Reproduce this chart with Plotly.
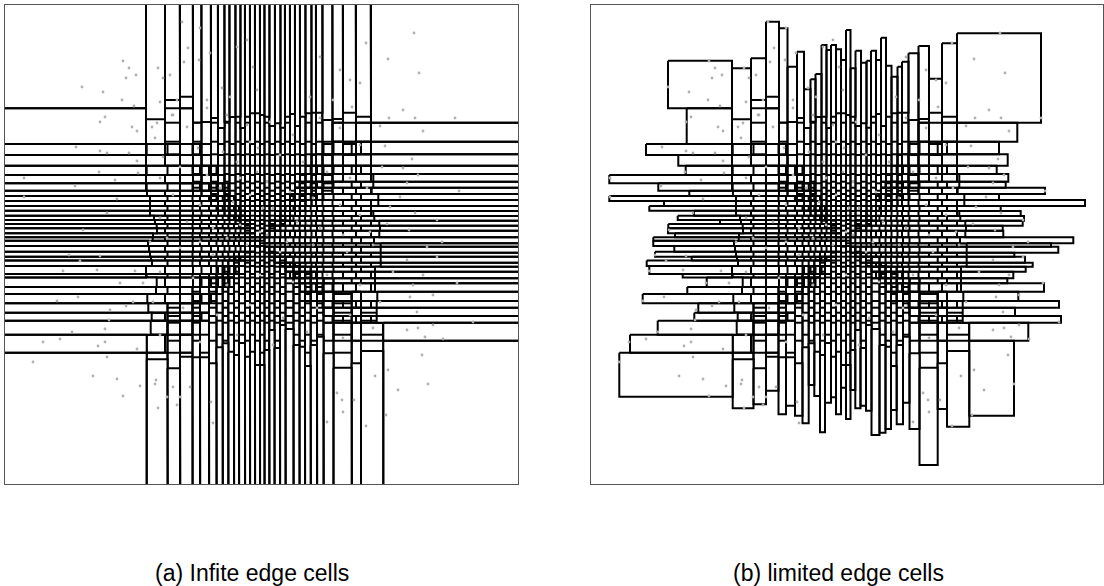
import plotly.graph_objects as go

# ---------------- data (units of panel coordinates, y grows downward) ----------------
# top edge columns: x edges, lower end (shared), upper end in the limited panel
TOP_X = [146, 165, 180, 193, 201.5, 211, 218, 224.5, 229.5, 235.5, 240.5, 245, 250, 255, 260,
         264.5, 269.5, 275, 280.5, 285, 290, 295, 300, 305.5, 311.5, 316, 322.5, 332.5, 343, 356, 371]
TOP_END = [119.3, 100, 96.7, 122.5, 122, 118, 128, 121.7, 117, 116.7, 128, 116.7, 113.3, 113.3, 115,
           116.7, 126, 123.3, 127.7, 116.7, 114, 126, 116.7, 113.3, 112.7, 112.7, 120, 119, 112.7, 116.7]
TOP_LIM = [68.3, 58.3, 21.7, 28.3, 66.7, 51.7, 89.3, 79.3, 74, 45, 50, 45, 49.3, 60, 30,
           68.3, 50.7, 62.7, 60.7, 50.7, 60, 37.7, 65.7, 76.7, 66.7, 61.7, 53.3, 46, 78.7, 43.3]

# bottom edge columns
BOT_X = [146.7, 167.5, 180, 192.5, 200, 209, 216.5, 222.7, 228.3, 234, 239, 245, 250, 255, 260,
         264.5, 269.3, 274.5, 280, 285.5, 293.5, 299.5, 305, 310.7, 317, 323.5, 333.5, 351.7, 361, 383.3]
BOT_END = [359.3, 368.3, 356.7, 357.3, 357.3, 363.3, 347.3, 343.3, 351.7, 355, 343, 356.7, 351.7, 365,
           365, 350, 330, 348, 325, 329, 345, 346.7, 366, 345, 336.7, 353.3, 367.7, 363.3, 351]
BOT_LIM = [408.3, 404.3, 390.7, 414.3, 405.7, 415.7, 423.3, 385, 396, 432.3, 402.7, 397.3, 414.3, 387.7,
           419, 390, 408.3, 405.7, 410.7, 435, 432.7, 429, 410, 424.3, 402.7, 429, 465, 409, 426.7]

# left edge rows
LEFT_Y = [108.3, 144, 155, 165.7, 175, 183.3, 190.7, 196, 201, 206, 210.7, 215.7, 220, 224, 228.3,
          233.3, 237.3, 240.7, 246, 251.7, 256.7, 260.5, 266, 274, 277.5, 287, 294, 303.3, 312.7,
          320.7, 334.7, 352.7]
LEFT_END = [146, 146, 146, 146, 146, 146, 147, 150, 150, 150, 150, 154, 155, 156.7, 157, 153, 152.7,
            148, 149, 150, 151, 152, 146, 146, 156.7, 156, 147.3, 148.3, 151.7, 150.7, 146.7]
LEFT_LIM = [100.7, 60, 92.3, 99.7, 23.3, 72.3, 103.3, 23.3, 78, 63.3, 108, 91.7, 134, 82.3, 82,
            89, 67.3, 67.3, 88.3, 69, 105.7, 60.7, 63.3, 96.7, 120.7, 101.3, 56.7, 112.3, 108.3,
            71.7, 44]

# right edge rows
RIGHT_Y = [122.7, 141.7, 154.3, 165.7, 174, 181.7, 187.7, 194, 200, 206, 211, 216, 220.7, 225.7,
           230.7, 237.3, 243.3, 246.7, 252.7, 256.7, 262.7, 266.7, 271.7, 278.3, 283.3, 291.7, 301,
           307.7, 316, 322.7, 340.7]
RIGHT_START = [371, 371, 371, 371, 373.3, 373.3, 371.7, 378.3, 378.3, 371, 373.3, 374.3, 379.3, 380,
               379.3, 374, 380.7, 380.7, 380.7, 380.7, 380.7, 375, 375, 375, 375, 377.3, 376.7,
               376.7, 376.7, 383.3]
RIGHT_LIM = [431.3, 413, 421.7, 410.7, 422.3, 419.7, 459, 413, 499, 414.7, 434.7, 438, 436.7, 416.7,
             417.3, 487.3, 465, 472.3, 428.3, 439, 446.7, 439.7, 427.3, 421.3, 458, 432.3, 473, 429,
             475, 442.3]

# corner cells: top-left, top-right, bottom-left, bottom-right
CORNER_INNER_X = [146, 371, 146.7, 383.3]
CORNER_INNER_Y = [108.3, 122.7, 352.7, 340.7]
CORNER_OUTER_X = [82, 455, 33.3, 428]
CORNER_OUTER_Y = [60.7, 33.3, 396.7, 415.7]

# centre of the cell pattern
CENTER_X = 260
CENTER_Y = 242

# sample points (x, y)
DOTS = [(123,61),(129,68),(126,78),(136,75),(82,87),(103,92),(122,100),(134,106),(100,122),(105,117),
        (132,127),(137,131),(76,147),(100,151),(107,153),(129,153),(99,172),(24,178),(115,180),(75,186),
        (24,197),(117,199),(107,213),(83,230),(137,161),(138,173),
        (182,22),(200,28),(188,48),(184,62),(158,68),(170,75),(163,78),(199,60),(210,53),(222,88),
        (237,47),(247,40),(172,115),(157,123),(177,100),(207,100),(230,97),(253,67),(257,90),
        (414,33),(388,59),(419,73),(366,43),(403,110),(415,118),(455,118),(389,118),(423,131),(385,146),
        (380,126),(412,159),(403,168),(382,167),(418,175),(407,183),(459,191),(400,197),(390,207),
        (415,213),(437,220),(387,224),(409,230),(350,80),(360,83),(320,57),(340,70),(310,97),(333,100),
        (352,107),
        (33,362),(93,376),(117,379),(140,386),(123,396),(107,357),(43,342),(60,339),(105,342),(137,349),
        (98,346),(72,332),(105,329),(109,320),(57,301),(78,297),(133,302),(63,271),(97,270),(135,271),
        (110,310),(126,306),(143,283),(120,283),(69,255),(100,256),(80,261),(158,408),(155,384),
        (173,387),(177,405),(190,387),(180,397),(211,402),(213,423),(156,380),(167,397),
        (422,355),(428,384),(398,390),(386,415),(388,370),(407,330),(425,337),(443,339),(342,400),
        (343,412),(366,426),(375,376),(337,393),(354,400),(327,422),(473,322),(433,325),(418,328),
        (457,283),(410,297),(433,295),(417,312),(393,272),(423,275),(407,260),(437,257),(427,247),
        (442,242),(413,285),
        (160,102),(152,127),(173,115),(187,127),(155,138),(198,148),(223,152),(237,162),(250,142),
        (258,148),(247,125),(227,115),(207,108),(163,157),(180,167),(160,178),(207,175),(220,188),
        (240,178),(257,172),(173,195),(200,205),(233,202),(250,195),(263,208),(160,218),(187,222),
        (213,228),(240,225),(260,232),(167,238),(200,242),(227,238),
        (270,122),(293,135),(320,118),(340,128),(360,145),(280,155),(303,162),(327,172),(350,178),
        (367,188),(267,182),(290,192),(313,198),(340,205),(360,215),(273,208),(297,222),(320,228),
        (343,235),(370,232),(267,235),(287,242),
        (150,242),(180,248),(213,255),(247,245),(280,252),(313,245),(347,252),(373,245),(160,272),
        (193,278),(227,285),(260,275),(293,282),(327,275),(360,285),(153,302),(183,308),(217,315),
        (250,305),(283,318),(317,308),(350,315),(380,302),(160,335),(200,342),(237,335),(273,345),
        (307,332),(343,338),(373,328)]

CAPTIONS = ["(a) Infite edge cells", "(b) limited edge cells"]

# ---------------- geometry helpers ----------------
FAR = 5000.0
OVERLAP = 0.7   # how far past the diagonal each zone reaches (fraction of the diagonal distance)


def add_rect(xs, ys, x0, x1, y0, y1):
    xs += [x0, x1, x1, x0, x0, None]
    ys += [y0, y0, y1, y1, y0, None]


def add_seg(xs, ys, x0, y0, x1, y1):
    xs += [x0, x1, None]
    ys += [y0, y1, None]


def corner_index(dx, dy):
    return (0 if dx < 0 else 1) + (0 if dy < 0 else 2)


def snap(v, edges):
    return min(edges, key=lambda e: abs(e - v))


def inner_cells():
    """Interior cells: columns dominate in the top/bottom sectors, rows in the left/right sectors."""
    xs, ys = [], []
    gx0, gx1 = min(LEFT_END), max(RIGHT_START)
    gy0, gy1 = min(TOP_END), max(BOT_END)
    for XE, sgn, y_out in ((TOP_X, -1, gy0), (BOT_X, 1, gy1)):
        for c in range(len(XE) - 1):
            xa, xb = XE[c], XE[c + 1]
            dx = (xa + xb) / 2 - CENTER_X
            k = corner_index(dx, sgn)
            hw = abs(CORNER_INNER_X[k] - CENTER_X)
            hh = abs(CORNER_INNER_Y[k] - CENTER_Y)
            side_rows = LEFT_Y if dx < 0 else RIGHT_Y
            y_in = snap(CENTER_Y + sgn * OVERLAP * abs(dx) / hw * hh, side_rows)
            lo, hi = min(y_in, y_out), max(y_in, y_out)
            add_seg(xs, ys, xa, lo, xa, hi)
            add_seg(xs, ys, xb, lo, xb, hi)
            edges = LEFT_Y if c % 2 == 0 else RIGHT_Y
            for y in edges:
                if lo <= y <= hi:
                    add_seg(xs, ys, xa, y, xb, y)
    for YE, sgn, x_out in ((LEFT_Y, -1, gx0), (RIGHT_Y, 1, gx1)):
        for r in range(len(YE) - 1):
            ya, yb = YE[r], YE[r + 1]
            dy = (ya + yb) / 2 - CENTER_Y
            k = corner_index(sgn, dy)
            hw = abs(CORNER_INNER_X[k] - CENTER_X)
            hh = abs(CORNER_INNER_Y[k] - CENTER_Y)
            side_cols = TOP_X if dy < 0 else BOT_X
            x_in = snap(CENTER_X + sgn * OVERLAP * abs(dy) / hh * hw, side_cols)
            lo, hi = min(x_in, x_out), max(x_in, x_out)
            add_seg(xs, ys, lo, ya, hi, ya)
            add_seg(xs, ys, lo, yb, hi, yb)
            edges = TOP_X if r % 2 == 0 else BOT_X
            for x in edges:
                if lo <= x <= hi:
                    add_seg(xs, ys, x, ya, x, yb)
    return xs, ys


def edge_cells(limited):
    xs, ys = [], []
    for i in range(len(TOP_X) - 1):
        y0 = TOP_LIM[i] if limited else -FAR
        add_rect(xs, ys, TOP_X[i], TOP_X[i + 1], y0, TOP_END[i])
    for i in range(len(BOT_X) - 1):
        y1 = BOT_LIM[i] if limited else FAR
        add_rect(xs, ys, BOT_X[i], BOT_X[i + 1], BOT_END[i], y1)
    for i in range(len(LEFT_Y) - 1):
        x0 = LEFT_LIM[i] if limited else -FAR
        add_rect(xs, ys, x0, LEFT_END[i], LEFT_Y[i], LEFT_Y[i + 1])
    for i in range(len(RIGHT_Y) - 1):
        x1 = RIGHT_LIM[i] if limited else FAR
        add_rect(xs, ys, RIGHT_START[i], x1, RIGHT_Y[i], RIGHT_Y[i + 1])
    sx = [-1, 1, -1, 1]
    sy = [-1, -1, 1, 1]
    for k in range(4):
        ox = CORNER_OUTER_X[k] if limited else sx[k] * FAR
        oy = CORNER_OUTER_Y[k] if limited else sy[k] * FAR
        ix, iy = CORNER_INNER_X[k], CORNER_INNER_Y[k]
        add_rect(xs, ys, min(ox, ix), max(ox, ix), min(oy, iy), max(oy, iy))
    return xs, ys


LINE_W = 2
fig = go.Figure()
for p, limited in enumerate([False, True]):
    xa = "x" if p == 0 else "x2"
    ya = "y" if p == 0 else "y2"
    gx, gy = inner_cells()
    fig.add_trace(go.Scatter(x=gx, y=gy, mode="lines", xaxis=xa, yaxis=ya,
                             line=dict(color="black", width=LINE_W), hoverinfo="skip",
                             showlegend=False))
    ex, ey = edge_cells(limited)
    fig.add_trace(go.Scatter(x=ex, y=ey, mode="lines", fill="toself", fillcolor="white",
                             xaxis=xa, yaxis=ya,
                             line=dict(color="black", width=LINE_W), hoverinfo="skip",
                             showlegend=False))
    fig.add_trace(go.Scatter(x=[d[0] for d in DOTS], y=[d[1] for d in DOTS], mode="markers",
                             xaxis=xa, yaxis=ya,
                             marker=dict(color="#b0b0b0", size=2.8, line=dict(width=0)),
                             hoverinfo="skip", showlegend=False))

W, H = 1104, 586
ax_common = dict(showgrid=False, zeroline=False, showticklabels=False, ticks="",
                 showline=True, mirror=True, linecolor="#555555", linewidth=1)
ydom = [1 - 484 / H, 1 - 5 / H]
fig.update_layout(
    width=W, height=H, margin=dict(l=0, r=0, t=0, b=0),
    paper_bgcolor="white", plot_bgcolor="white",
    xaxis=dict(domain=[5 / W, 518 / W], range=[5, 518], **ax_common),
    yaxis=dict(domain=ydom, range=[484, 5], **ax_common),
    xaxis2=dict(domain=[591 / W, 1103 / W], range=[5, 517], anchor="y2", **ax_common),
    yaxis2=dict(domain=ydom, range=[484, 5], anchor="x2", **ax_common),
)
cap_x = [251.5, 838.5]
for t, cx in zip(CAPTIONS, cap_x):
    fig.add_annotation(text=t, x=cx / W, y=1 - 573 / H, xref="paper", yref="paper",
                       showarrow=False, xanchor="center", yanchor="middle",
                       font=dict(family="Liberation Sans, Arial, sans-serif", size=23, color="black"))

fig.write_html("out.html")
